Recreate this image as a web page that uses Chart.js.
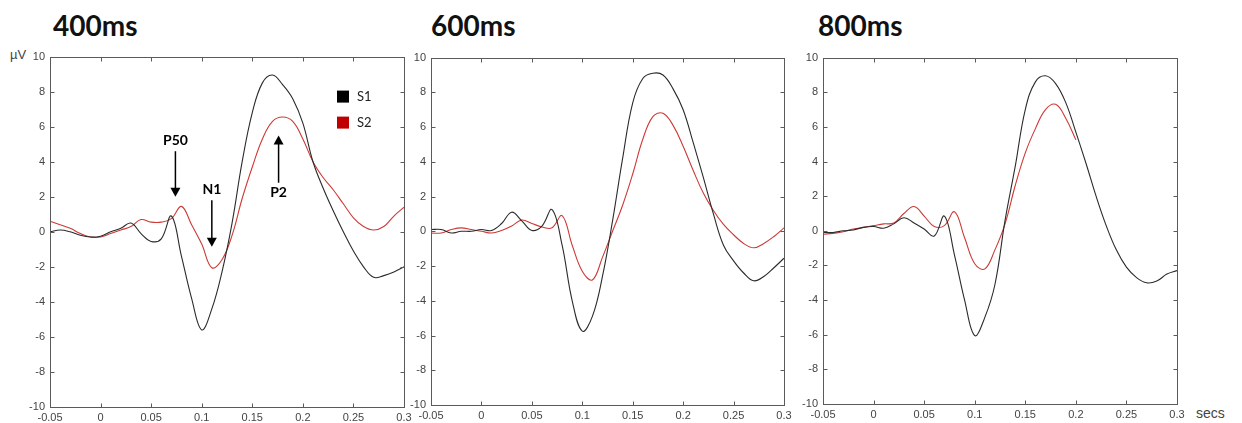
<!DOCTYPE html>
<html>
<head>
<meta charset="utf-8">
<script src="https://cdn.jsdelivr.net/npm/chart.js@4.4.1/dist/chart.umd.min.js"></script>
<style>
body { margin: 0; background: #fff; width: 1242px; height: 423px; overflow: hidden; position: relative; }
.title { position: absolute; top: 8px; font: bold 28px Lato, sans-serif; color: #111; }
.unit { position: absolute; font: 13px "Liberation Sans", Arial, sans-serif; color: #444; }
canvas { position: absolute; }
</style>
</head>
<body>
<div class="title" style="left:53px">400ms</div>
<div class="title" style="left:431px">600ms</div>
<div class="title" style="left:818px">800ms</div>
<div class="unit" style="left:10px;top:47px">µV</div>
<div class="unit" style="left:1196px;top:405px;font-size:14px">secs</div>
<canvas id="c400"></canvas>
<canvas id="c600"></canvas>
<canvas id="c800"></canvas>
<script>
// time axis (s), one sample every 10 ms
const secs = [-0.05, -0.04, -0.03, -0.02, -0.01, 0, 0.01, 0.02, 0.03, 0.04, 0.05, 0.06,
  0.07, 0.08, 0.09, 0.1, 0.11, 0.12, 0.13, 0.14, 0.15, 0.16, 0.17, 0.18, 0.19, 0.2,
  0.21, 0.22, 0.23, 0.24, 0.25, 0.26, 0.27, 0.28, 0.29, 0.3];

const seriesNames = ['S1', 'S2'];
const seriesColors = ['#2b2b2b', '#cc3a36'];

// 400ms ISI
const s1_400 = [0.0, 0.1, 0.0, -0.2, -0.3, -0.25, 0.0, 0.2, 0.5, -0.1, -0.55, -0.4, 0.9, -1.4,
  -3.8, -5.6, -4.4, -2.3, 0.5, 4.0, 6.8, 8.5, 8.95, 8.4, 7.6, 6.2, 4.0, 2.5, 1.2, 0.0,
  -1.1, -2.0, -2.6, -2.5, -2.3, -2.0];
const s2_400 = [0.6, 0.4, 0.2, -0.1, -0.3, -0.3, -0.1, 0.1, 0.3, 0.7, 0.55, 0.55, 0.75, 1.45,
  0.4, -0.7, -2.05, -1.6, -0.2, 1.9, 3.7, 5.3, 6.3, 6.55, 6.3, 5.3, 4.0, 3.1, 2.4, 1.6,
  0.8, 0.3, 0.1, 0.3, 0.9, 1.4];

// 600ms ISI
const s1_600 = [0.1, 0.1, -0.1, 0.0, 0.0, 0.1, 0.05, 0.45, 1.1, 0.6, 0.05, 0.3, 1.25, -0.8,
  -4.0, -5.75, -4.9, -2.6, 0.6, 4.2, 7.4, 8.8, 9.1, 9.0, 8.2, 7.0, 5.1, 3.1, 1.0, -0.8,
  -1.7, -2.4, -2.85, -2.6, -2.1, -1.55];
const s2_600 = [-0.1, -0.1, 0.1, 0.2, 0.1, 0.0, -0.1, 0.05, 0.3, 0.65, 0.45, 0.25, 0.2, 0.9,
  -0.8, -2.3, -2.8, -1.5, 0.0, 1.5, 3.3, 5.3, 6.6, 6.8, 6.1, 4.9, 3.5, 2.2, 1.2, 0.4,
  -0.2, -0.7, -0.95, -0.7, -0.3, 0.2];

// 800ms ISI (S2 recorded only up to 0.2 s)
const s1_800 = [-0.1, -0.1, 0.0, 0.05, 0.2, 0.25, 0.15, 0.4, 0.75, 0.45, 0.1, -0.3, 0.85, -1.4,
  -4.0, -6.05, -5.0, -3.1, 0.6, 3.7, 7.0, 8.6, 8.95, 8.5, 7.4, 5.7, 3.9, 2.0, 0.3, -1.1,
  -2.1, -2.7, -3.0, -2.9, -2.5, -2.3];
const s2_800 = [-0.2, -0.15, -0.05, 0.1, 0.2, 0.3, 0.4, 0.45, 1.0, 1.4, 0.85, 0.25, 0.3, 1.1,
  -0.4, -1.9, -2.2, -1.1, 0.4, 2.6, 4.5, 5.9, 7.0, 7.3, 6.5, 5.25];

// component labels on the 400ms panel: [label, time, text level, arrow from, arrow to]
const peaks = [
  ['P50', 0.074, 5.2, 4.6, 2.0],
  ['N1', 0.11, 2.4, 1.8, -0.85],
  ['P2', 0.176, 2.25, 2.8, 5.5]
];

const frame = {
  id: 'frame',
  afterDraw(chart) {
    const { ctx, chartArea: a, scales: { x, y } } = chart;
    ctx.save();
    ctx.strokeStyle = '#5a5a5a';
    ctx.lineWidth = 1;
    const L = Math.round(a.left) + 0.5, R = Math.round(a.right) + 0.5;
    const T = Math.round(a.top) + 0.5, B = Math.round(a.bottom) + 0.5;
    ctx.strokeRect(L, T, R - L, B - T);
    ctx.beginPath();
    x.ticks.forEach(t => {
      const px = Math.round(x.getPixelForValue(t.value)) + 0.5;
      ctx.moveTo(px, T); ctx.lineTo(px, T + 4);
      ctx.moveTo(px, B); ctx.lineTo(px, B - 4);
    });
    y.ticks.forEach(t => {
      const py = Math.round(y.getPixelForValue(t.value)) + 0.5;
      ctx.moveTo(L, py); ctx.lineTo(L + 4, py);
      ctx.moveTo(R, py); ctx.lineTo(R - 4, py);
    });
    ctx.stroke();
    ctx.restore();
  }
};

const marks = {
  id: 'marks',
  afterDraw(chart) {
    const { ctx, chartArea: a, scales: { x, y } } = chart;
    ctx.save();
    // legend
    chart.data.datasets.forEach((ds, i) => {
      const lx = a.left + 287, ly = a.top + 34 + i * 26;
      ctx.fillStyle = i == 0 ? '#000' : '#c00000';
      ctx.fillRect(lx, ly, 12, 12);
      ctx.fillStyle = '#222';
      ctx.font = '13px Lato, sans-serif';
      ctx.textBaseline = 'middle';
      ctx.fillText(ds.label, lx + 20, ly + 6);
    });
    // arrows
    ctx.font = 'bold 14px Lato, sans-serif';
    ctx.textAlign = 'center';
    ctx.textBaseline = 'middle';
    ctx.strokeStyle = '#000';
    ctx.fillStyle = '#000';
    ctx.lineWidth = 1.5;
    peaks.forEach(p => {
      const px = x.getPixelForValue(p[1]);
      ctx.fillText(p[0], px, y.getPixelForValue(p[2]));
      const y1 = y.getPixelForValue(p[3]), y2 = y.getPixelForValue(p[4]);
      const dir = y2 > y1 ? 1 : -1;
      ctx.beginPath();
      ctx.moveTo(px, y1); ctx.lineTo(px, y2 - dir * 8);
      ctx.stroke();
      ctx.beginPath();
      ctx.moveTo(px, y2);
      ctx.lineTo(px - 5, y2 - dir * 9);
      ctx.lineTo(px + 5, y2 - dir * 9);
      ctx.closePath();
      ctx.fill();
    });
    ctx.restore();
  }
};

function makePanel(id, box, s1, s2, extra) {
  const cv = document.getElementById(id);
  const w = box.right - box.left, h = box.bottom - box.top;
  cv.width = w + 45 + 14;
  cv.height = h + 8 + 16;
  cv.style.left = (box.left - 45) + 'px';
  cv.style.top = (box.top - 8) + 'px';
  const pts = arr => arr.map((v, i) => ({ x: secs[i], y: v }));
  new Chart(cv, {
    type: 'line',
    data: {
      datasets: [
        { label: seriesNames[0], data: pts(s1), borderColor: seriesColors[0], borderWidth: 1.1, pointRadius: 0, tension: 0.4 },
        { label: seriesNames[1], data: pts(s2), borderColor: seriesColors[1], borderWidth: 1.1, pointRadius: 0, tension: 0.4 }
      ]
    },
    options: {
      responsive: false,
      animation: false,
      devicePixelRatio: 1,
      layout: { padding: { top: 8, right: 14, left: 0, bottom: 0 } },
      plugins: { legend: { display: false }, tooltip: { enabled: false } },
      scales: {
        x: {
          type: 'linear', min: -0.05, max: 0.3,
          grid: { display: false, drawTicks: false }, border: { display: false },
          ticks: {
            stepSize: 0.05, autoSkip: false, maxRotation: 0, padding: 4,
            color: '#444', font: { family: 'Liberation Sans, Arial', size: 11 },
            callback: v => String(Number(v.toFixed(2)))
          },
          afterFit: s => { s.height = 16; }
        },
        y: {
          min: -10, max: 10,
          grid: { display: false, drawTicks: false }, border: { display: false },
          ticks: {
            stepSize: 2, padding: 5,
            color: '#444', font: { family: 'Liberation Sans, Arial', size: 11 }
          },
          afterFit: s => { s.width = 45; }
        }
      }
    },
    plugins: extra ? [frame, marks] : [frame]
  });
}

makePanel('c400', { left: 50, right: 404, top: 53, bottom: 407 }, s1_400, s2_400, true);
makePanel('c600', { left: 431, right: 784, top: 54, bottom: 405 }, s1_600, s2_600, false);
makePanel('c800', { left: 823, right: 1177, top: 54, bottom: 404 }, s1_800, s2_800, false);
</script>
</body>
</html>
